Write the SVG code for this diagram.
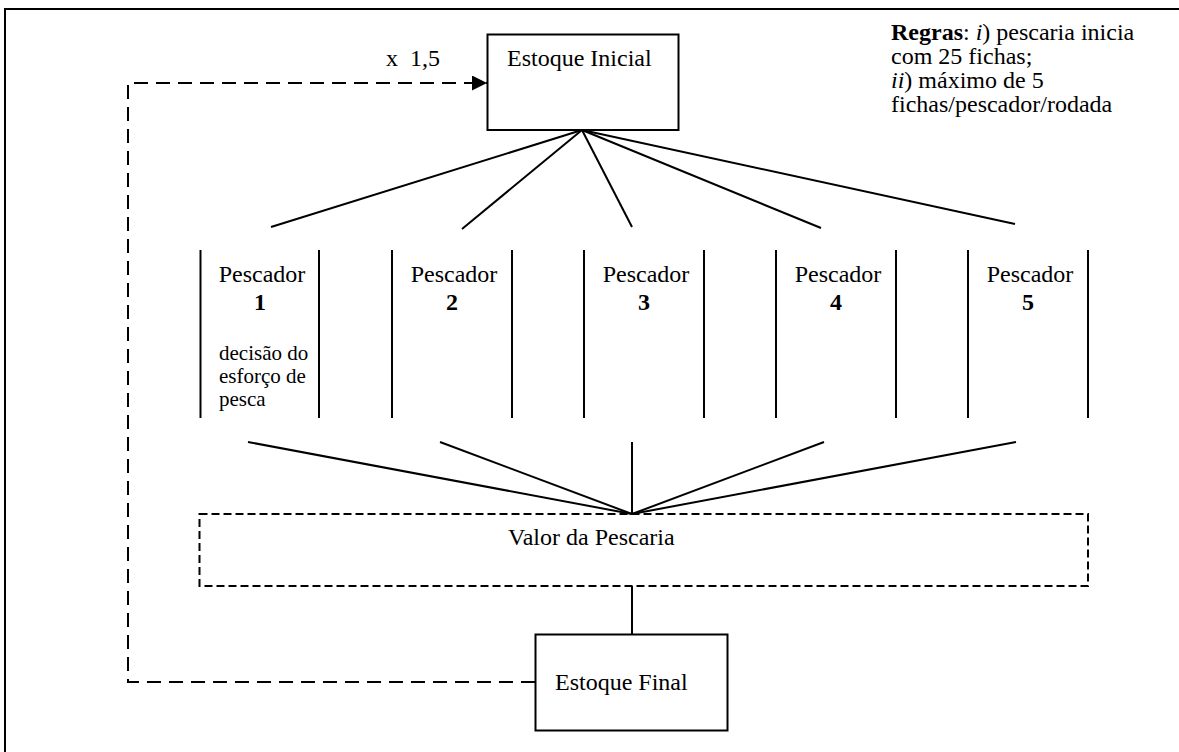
<svg xmlns="http://www.w3.org/2000/svg" width="1179" height="752" viewBox="0 0 1179 752">
  <style>
    text { font-family: "Liberation Serif", "Times New Roman", serif; font-size: 24px; fill: #000; }
    .small { font-size: 21px; }
    .num { font-weight: bold; text-anchor: middle; }
    .mid { text-anchor: middle; }
    .box { fill: #fff; stroke: #000; stroke-width: 2; }
    .rule { fill: none; stroke: #000; stroke-width: 2; }
    .link { fill: none; stroke: #000; stroke-width: 2; }
    .loop { fill: none; stroke: #000; stroke-width: 2; stroke-dasharray: 14 8; }
    .dashbox { fill: none; stroke: #000; stroke-width: 2; stroke-dasharray: 8 4; }
  </style>
  <defs>
    <marker id="arrow" viewBox="0 0 15 15" refX="15" refY="7.5" markerWidth="15" markerHeight="15" markerUnits="userSpaceOnUse" orient="auto">
      <path d="M0,0 L15,7.5 L0,15 Z" fill="#000"/>
    </marker>
  </defs>

  <rect width="1179" height="752" fill="#fff"/>

  <!-- page frame (open to the right and bottom) -->
  <path d="M5,752 V9 H1179" fill="none" stroke="#000" stroke-width="2"/>

  <!-- connectors -->
  <g id="connectors">
    <!-- fan from the initial stock to the fishers -->
    <line class="link" x1="582" y1="130" x2="271" y2="227"/>
    <line class="link" x1="582" y1="130" x2="462" y2="229"/>
    <line class="link" x1="582" y1="130" x2="632" y2="227"/>
    <line class="link" x1="582" y1="130" x2="821" y2="228"/>
    <line class="link" x1="582" y1="130" x2="1015" y2="224"/>
    <!-- fan from the fishers into the fishery value -->
    <line class="link" x1="248" y1="442" x2="632" y2="514"/>
    <line class="link" x1="440" y1="442" x2="632" y2="514"/>
    <line class="link" x1="632" y1="442" x2="632" y2="514"/>
    <line class="link" x1="824" y1="442" x2="632" y2="514"/>
    <line class="link" x1="1016" y1="442" x2="632" y2="514"/>
    <!-- fishery value to final stock -->
    <line class="link" x1="632" y1="586" x2="632" y2="634"/>
    <!-- feedback loop: final stock back to initial stock -->
    <path class="loop" d="M535,682 H128 V83 H487" marker-end="url(#arrow)"/>
    <text x="386" y="66" xml:space="preserve">x  1,5</text>
  </g>

  <!-- initial stock -->
  <g id="estoque-inicial">
    <rect class="box" x="487.5" y="34.5" width="191" height="95.5"/>
    <text x="507" y="66">Estoque Inicial</text>
  </g>

  <!-- fishers -->
  <g id="pescador-1">
    <line class="rule" x1="200.5" y1="250" x2="200.5" y2="418"/>
    <line class="rule" x1="319" y1="250" x2="319" y2="418"/>
    <text class="mid" x="262" y="282">Pescador</text>
    <text class="num" x="260" y="310">1</text>
    <text class="small" x="219" y="360">decisão do</text>
    <text class="small" x="219" y="383">esforço de</text>
    <text class="small" x="219" y="406">pesca</text>
  </g>
  <g id="pescador-2">
    <line class="rule" x1="392" y1="250" x2="392" y2="418"/>
    <line class="rule" x1="512" y1="250" x2="512" y2="418"/>
    <text class="mid" x="454" y="282">Pescador</text>
    <text class="num" x="452" y="310">2</text>
  </g>
  <g id="pescador-3">
    <line class="rule" x1="584" y1="250" x2="584" y2="418"/>
    <line class="rule" x1="704" y1="250" x2="704" y2="418"/>
    <text class="mid" x="646" y="282">Pescador</text>
    <text class="num" x="644" y="310">3</text>
  </g>
  <g id="pescador-4">
    <line class="rule" x1="776" y1="250" x2="776" y2="418"/>
    <line class="rule" x1="896" y1="250" x2="896" y2="418"/>
    <text class="mid" x="838" y="282">Pescador</text>
    <text class="num" x="836" y="310">4</text>
  </g>
  <g id="pescador-5">
    <line class="rule" x1="968" y1="250" x2="968" y2="418"/>
    <line class="rule" x1="1088" y1="250" x2="1088" y2="418"/>
    <text class="mid" x="1030" y="282">Pescador</text>
    <text class="num" x="1028" y="310">5</text>
  </g>

  <!-- fishery value -->
  <g id="valor-pescaria">
    <rect class="dashbox" x="199.5" y="514" width="888.5" height="72"/>
    <text x="508" y="545">Valor da Pescaria</text>
  </g>

  <!-- final stock -->
  <g id="estoque-final">
    <rect class="box" x="535.5" y="634.5" width="192" height="96"/>
    <text x="555" y="690">Estoque Final</text>
  </g>

  <!-- rules note -->
  <g id="regras">
    <text x="891" y="40"><tspan font-weight="bold">Regras</tspan>: <tspan font-style="italic">i</tspan>) pescaria inicia</text>
    <text x="891" y="64">com 25 fichas;</text>
    <text x="891" y="88"><tspan font-style="italic">ii</tspan>) máximo de 5</text>
    <text x="891" y="112">fichas/pescador/rodada</text>
  </g>
</svg>
